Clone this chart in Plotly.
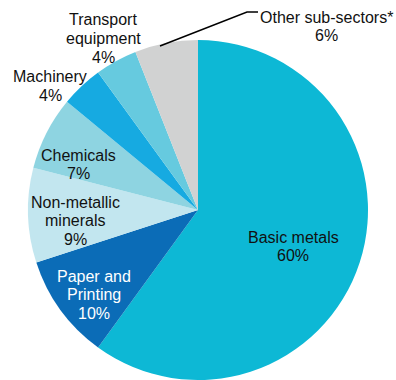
import plotly.graph_objects as go

sectors = ["Basic metals", "Paper and Printing", "Non-metallic minerals", "Chemicals",
           "Machinery", "Transport equipment", "Other sub-sectors*"]
shares = [60, 10, 9, 7, 4, 4, 6]
colors = ["#0db8d5", "#0b6cb7", "#c2e6ef", "#8ed4e1", "#16aae1", "#66cadf", "#d1d2d2"]
label_lines = [["Basic metals"], ["Paper and", "Printing"], ["Non-metallic", "minerals"],
               ["Chemicals"], ["Machinery"], ["Transport", "equipment"], ["Other sub-sectors*"]]
# label anchor (pixel x centre, pixel y of first line centre) and text colour
label_pos = [(293, 237), (94, 276), (75, 202), (78, 155), (50, 77), (103, 20), (326, 17)]
label_col = ["#111111", "#ffffff", "#111111", "#111111", "#111111", "#111111", "#111111"]

W, H = 396, 380
LINE = 18.6
FONT = "Liberation Sans, Arial, sans-serif"

fig = go.Figure(go.Pie(
    labels=sectors, values=shares, sort=False, direction="clockwise", rotation=0,
    marker=dict(colors=colors, line=dict(width=0)), textinfo="none",
    hoverinfo="label+percent", domain=dict(x=[28 / W, 368 / W], y=[0, 340 / H]),
    showlegend=False,
))

annotations = []
for name, lines, val, (px, py), col in zip(sectors, label_lines, shares, label_pos, label_col):
    all_lines = lines + [f"{val}%"]
    for i, t in enumerate(all_lines):
        annotations.append(dict(
            x=px / W, y=1 - (py + i * LINE) / H, xref="paper", yref="paper",
            text=t, showarrow=False, xanchor="center", yanchor="middle",
            font=dict(family=FONT, size=16, color=col),
        ))

fig.add_shape(type="path", xref="paper", yref="paper",
              path=f"M {160 / W} {1 - 46 / H} L {247 / W} {1 - 12 / H} L {258 / W} {1 - 12 / H}",
              line=dict(color="#000000", width=1.5))

fig.update_layout(
    width=W, height=H, margin=dict(l=0, r=0, t=0, b=0),
    paper_bgcolor="white", plot_bgcolor="white",
    annotations=annotations,
)
fig.write_html("out.html", config={"displayModeBar": False},
               post_script="document.body.style.margin='0';document.body.style.overflow='hidden';")
